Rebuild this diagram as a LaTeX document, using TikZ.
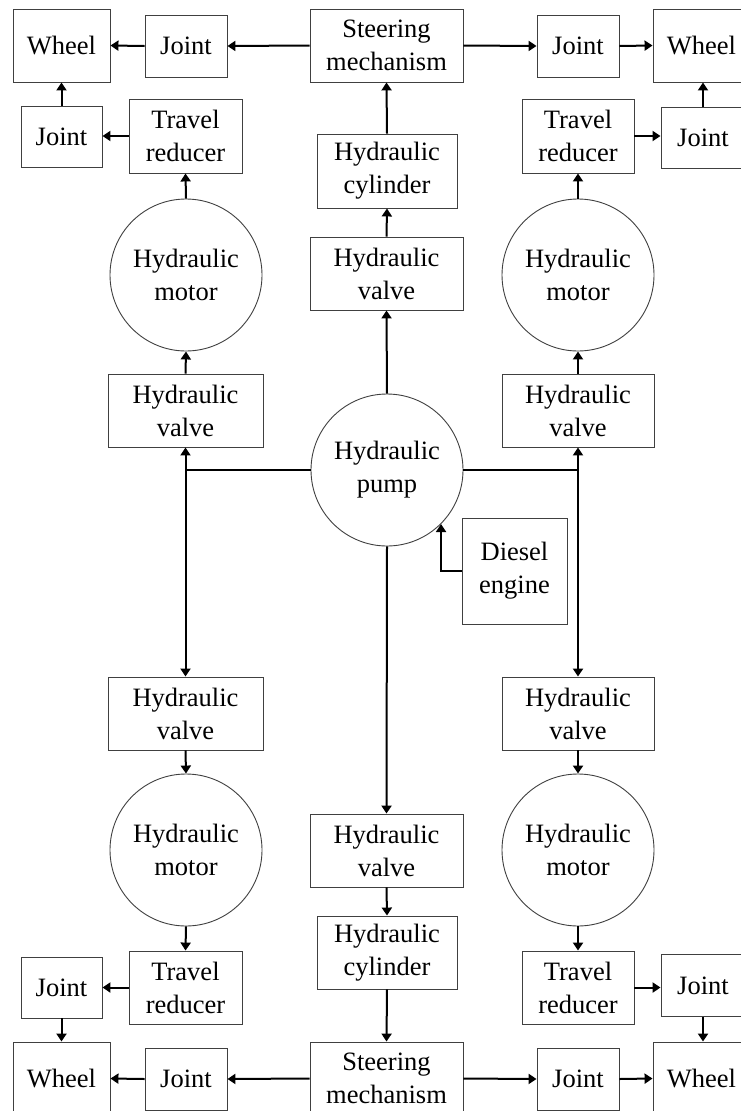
\documentclass[tikz,border=0pt]{standalone}
\usepackage{fontspec}
\setmainfont{Liberation Serif}
\usetikzlibrary{arrows.meta}
\begin{document}
\begin{tikzpicture}[x=1pt,y=-1pt,
  blk/.style={draw=black!75, line width=0.9pt, inner sep=0pt, align=center,
    font=\fontsize{26.5}{33}\selectfont},
  rbox/.style args={#1x#2}{blk, rectangle, minimum width=#1pt, minimum height=#2pt},
  disc/.style={blk, circle, minimum size=152pt},
  arr/.style={line width=2pt, -{Triangle[length=8pt,width=10pt]}},
  biarr/.style={line width=2pt, {Triangle[length=8pt,width=10pt]}-{Triangle[length=8pt,width=10pt]}},
  link/.style={line width=2pt}]
\useasboundingbox (0,0) rectangle (741,1111);
\fill[white] (0,0) rectangle (741,1111);
\clip (0,0) rectangle (741,1111);

% ---- upper steering chain ----
\node[rbox=97x73]  (wheelTL) at (61.5,45.5)  {Wheel};
\node[rbox=82x62]  (jointTL) at (186,46)     {Joint};
\node[rbox=153x73] (steerT)  at (386.5,45.5) {Steering\\mechanism};
\node[rbox=82x62]  (jointTR) at (578,46)     {Joint};
\node[rbox=97x73]  (wheelTR) at (701.5,45.5) {Wheel};

% ---- upper drive units ----
\node[rbox=81x61]  (jointL2) at (61.5,136.5) {Joint};
\node[rbox=113x74] (redTL)   at (185.5,136)  {Travel\\reducer};
\node[rbox=140x74] (cylT)    at (387,171)    {Hydraulic\\cylinder};
\node[rbox=112x74] (redTR)   at (578,136)    {Travel\\reducer};
\node[rbox=84x61]  (jointR2) at (703,138)    {Joint};

\node[disc] (motTL) at (186,275) {Hydraulic\\motor};
\node[rbox=153x73] (valT) at (386.5,273.5) {Hydraulic\\valve};
\node[disc] (motTR) at (578,275) {Hydraulic\\motor};

\node[rbox=155x73] (valTL) at (185.5,410.5) {Hydraulic\\valve};
\node[rbox=152x73] (valTR) at (578,410.5)   {Hydraulic\\valve};

% ---- power source ----
\node[disc] (pump) at (387,470) {Hydraulic\\pump};
\node[rbox=105x106] (diesel) at (514.5,571) {Diesel\\engine};

% ---- lower drive units ----
\node[rbox=155x73] (valBL) at (185.5,713.5) {Hydraulic\\valve};
\node[rbox=152x73] (valBR) at (578,713.5)   {Hydraulic\\valve};
\node[disc] (motBL) at (186,850) {Hydraulic\\motor};
\node[rbox=153x73] (valBM) at (386.5,850.5) {Hydraulic\\valve};
\node[disc] (motBR) at (578,850) {Hydraulic\\motor};

\node[rbox=140x73] (cylB)    at (387,952.5)   {Hydraulic\\cylinder};
\node[rbox=113x73] (redBL)   at (185.5,987.5) {Travel\\reducer};
\node[rbox=112x73] (redBR)   at (578,987.5)   {Travel\\reducer};
\node[rbox=81x61]  (jointBL2) at (61.5,987.5) {Joint};
\node[rbox=84x62]  (jointBR2) at (703,985.5)  {Joint};

% ---- lower steering chain ----
\node[rbox=97x73]  (wheelBL) at (61.5,1078.5)  {Wheel};
\node[rbox=82x62]  (jointBL) at (186,1079)     {Joint};
\node[rbox=153x73] (steerB)  at (386.5,1078.5) {Steering\\mechanism};
\node[rbox=82x62]  (jointBR) at (578,1079)     {Joint};
\node[rbox=97x73]  (wheelBR) at (701.5,1078.5) {Wheel};

% junctions on the pump's supply line
\coordinate (jl) at (valTL.south |- pump.west);
\coordinate (jr) at (valTR.south |- pump.east);

% ---- upper connectors ----
\draw[arr] (steerT.west) -- (jointTL.east);
\draw[arr] (jointTL.west) -- (wheelTL.east);
\draw[arr] (steerT.east) -- (jointTR.west);
\draw[arr] (jointTR.east) -- (wheelTR.west);
\draw[arr] (redTL.west) -- (redTL.west -| jointL2.east);
\draw[arr] (jointL2.north) -- (wheelTL.south);
\draw[arr] (redTR.east) -- (redTR.east -| jointR2.west);
\draw[arr] (jointR2.north) -- (jointR2.north |- wheelTR.south);
\draw[arr] (motTL.north) -- (redTL.south);
\draw[arr] (motTR.north) -- (redTR.south);
\draw[arr] (valTL.north) -- (motTL.south);
\draw[arr] (valTR.north) -- (motTR.south);
\draw[arr] (cylT.north) -- (steerT.south);
\draw[arr] (valT.north) -- (cylT.south);
\draw[arr] (pump.north) -- (valT.south);

% ---- supply lines ----
\draw[link] (pump.west) -- (jl);
\draw[link] (pump.east) -- (jr);
\draw[biarr] (valTL.south) -- (valBL.north);
\draw[biarr] (valTR.south) -- (valBR.north);
\draw[arr] (pump.south) -- (valBM.north);
\draw[arr] (diesel.west) -| (pump.-45);

% ---- lower connectors ----
\draw[arr] (valBL.south) -- (motBL.north);
\draw[arr] (valBR.south) -- (motBR.north);
\draw[arr] (motBL.south) -- (redBL.north);
\draw[arr] (motBR.south) -- (redBR.north);
\draw[arr] (redBL.west) -- (redBL.west -| jointBL2.east);
\draw[arr] (jointBL2.south) -- (wheelBL.north);
\draw[arr] (redBR.east) -- (redBR.east -| jointBR2.west);
\draw[arr] (jointBR2.south) -- (jointBR2.south |- wheelBR.north);
\draw[arr] (valBM.south) -- (cylB.north);
\draw[arr] (cylB.south) -- (steerB.north);
\draw[arr] (steerB.west) -- (jointBL.east);
\draw[arr] (jointBL.west) -- (wheelBL.east);
\draw[arr] (steerB.east) -- (jointBR.west);
\draw[arr] (jointBR.east) -- (wheelBR.west);
\end{tikzpicture}
\end{document}
